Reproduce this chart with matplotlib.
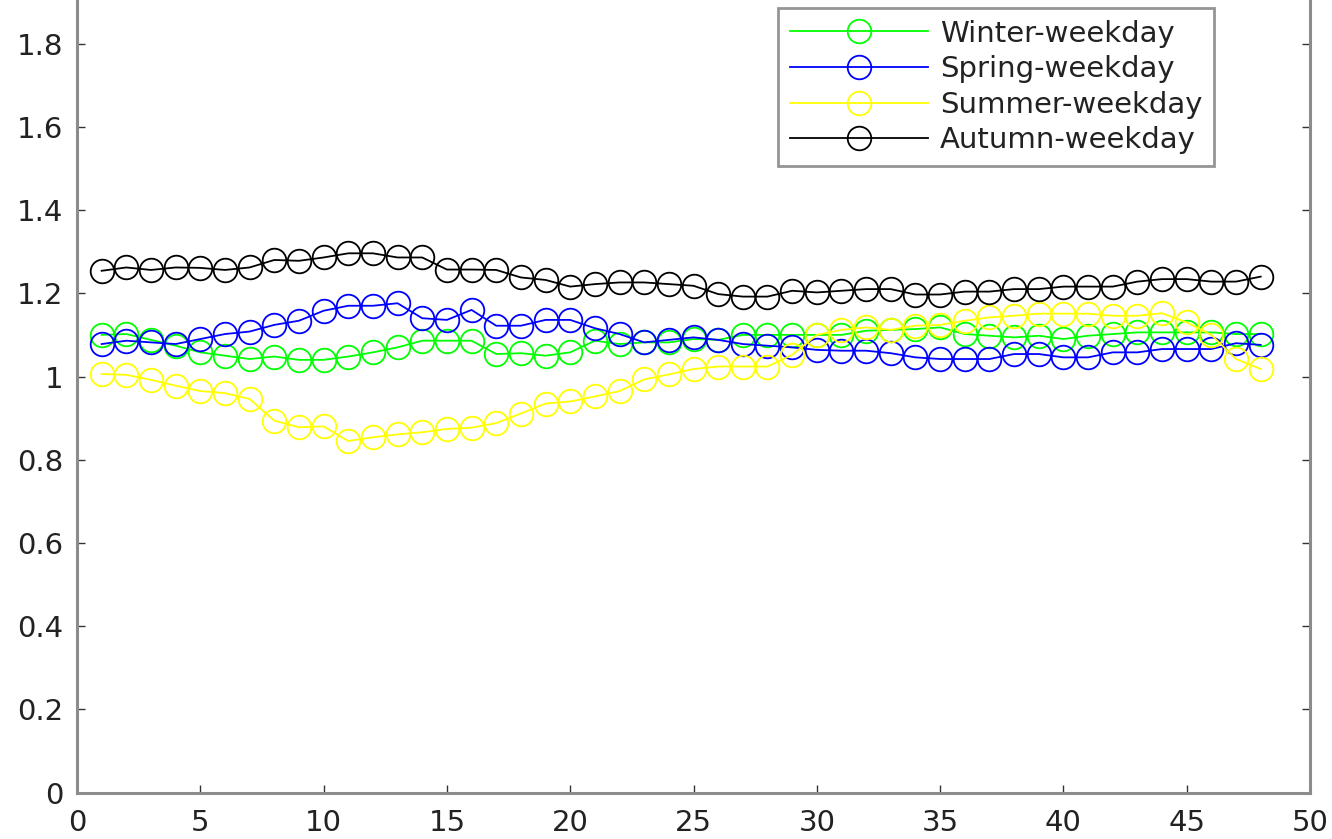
import matplotlib
matplotlib.use("Agg")
import matplotlib.pyplot as plt
import numpy as np

plt.rcParams["font.family"] = ["DejaVu Sans"]

# 48 个时段
slots = list(range(1, 49))

winter = [1.100, 1.102, 1.088, 1.074, 1.058, 1.050, 1.042, 1.048, 1.040, 1.040,
          1.048, 1.058, 1.070, 1.086, 1.086, 1.086, 1.054, 1.056, 1.050, 1.058,
          1.086, 1.078, 1.082, 1.082, 1.090, 1.088, 1.100, 1.100, 1.100, 1.100,
          1.100, 1.110, 1.112, 1.114, 1.118, 1.102, 1.098, 1.094, 1.098, 1.090,
          1.098, 1.102, 1.106, 1.106, 1.106, 1.106, 1.102, 1.102]
spring = [1.078, 1.086, 1.082, 1.078, 1.090, 1.102, 1.108, 1.124, 1.134, 1.158,
          1.170, 1.170, 1.176, 1.140, 1.136, 1.160, 1.122, 1.122, 1.136, 1.136,
          1.116, 1.102, 1.082, 1.088, 1.094, 1.088, 1.078, 1.074, 1.070, 1.064,
          1.062, 1.062, 1.056, 1.046, 1.042, 1.042, 1.042, 1.054, 1.054, 1.046,
          1.046, 1.058, 1.058, 1.066, 1.066, 1.066, 1.080, 1.076]
summer = [1.006, 1.004, 0.992, 0.978, 0.965, 0.960, 0.946, 0.894, 0.878, 0.880,
          0.845, 0.854, 0.861, 0.866, 0.874, 0.877, 0.888, 0.911, 0.935, 0.940,
          0.952, 0.965, 0.993, 1.005, 1.018, 1.024, 1.024, 1.024, 1.052, 1.100,
          1.112, 1.118, 1.112, 1.122, 1.124, 1.134, 1.142, 1.146, 1.151, 1.151,
          1.151, 1.146, 1.146, 1.152, 1.130, 1.100, 1.042, 1.018]
autumn = [1.254, 1.262, 1.256, 1.262, 1.261, 1.256, 1.262, 1.280, 1.278, 1.286,
          1.296, 1.296, 1.286, 1.286, 1.257, 1.257, 1.256, 1.238, 1.232, 1.216,
          1.222, 1.226, 1.226, 1.222, 1.218, 1.198, 1.192, 1.192, 1.206, 1.202,
          1.206, 1.210, 1.210, 1.197, 1.197, 1.204, 1.204, 1.210, 1.210, 1.216,
          1.216, 1.216, 1.228, 1.234, 1.234, 1.228, 1.228, 1.240]

labels = ["Winter-weekday", "Spring-weekday", "Summer-weekday", "Autumn-weekday"]
colors = ["#00ff00", "#0000ff", "#ffff00", "#000000"]

fig = plt.figure(figsize=(13.32, 8.39), dpi=100)
# 图片顶部被裁掉，所以坐标轴上边缘超出画布
ax = fig.add_axes([0.0578, 0.0552, 0.9257, 0.9921])

for series, name, c in zip([winter, spring, summer, autumn], labels, colors):
    ax.plot(slots, series, "-o", color=c, label=name, linewidth=1.3,
            markersize=17, markerfacecolor="none", markeredgewidth=1.3)

ax.set_xlim(0, 50)
ax.set_ylim(0, 2)
ax.set_xticks(np.arange(0, 51, 5))
ax.set_yticks(np.arange(0, 1.81, 0.2))
ax.set_yticklabels(["0", "0.2", "0.4", "0.6", "0.8", "1", "1.2", "1.4", "1.6", "1.8"])

for s in ax.spines.values():
    s.set_color("#8c8c8c")
    s.set_linewidth(2.2)

ax.tick_params(direction="in", length=6, width=1, color="#333333",
               labelsize=21, labelcolor="#222222", right=True, top=False)
ax.tick_params(axis="x", pad=12)
ax.tick_params(axis="y", pad=10)

leg = ax.legend(loc="upper right", bbox_to_anchor=(1214 / 1332, 1 - 8 / 839),
                bbox_transform=fig.transFigure, borderaxespad=0, numpoints=1,
                fontsize=21, handlelength=4.75, handletextpad=0.4,
                labelspacing=0.26, borderpad=0.4, fancybox=False)
leg.get_frame().set_edgecolor("#7a7a7a")
leg.get_frame().set_linewidth(2)
for t in leg.get_texts():
    t.set_color("#222222")

fig.savefig("out.png", dpi=100)
